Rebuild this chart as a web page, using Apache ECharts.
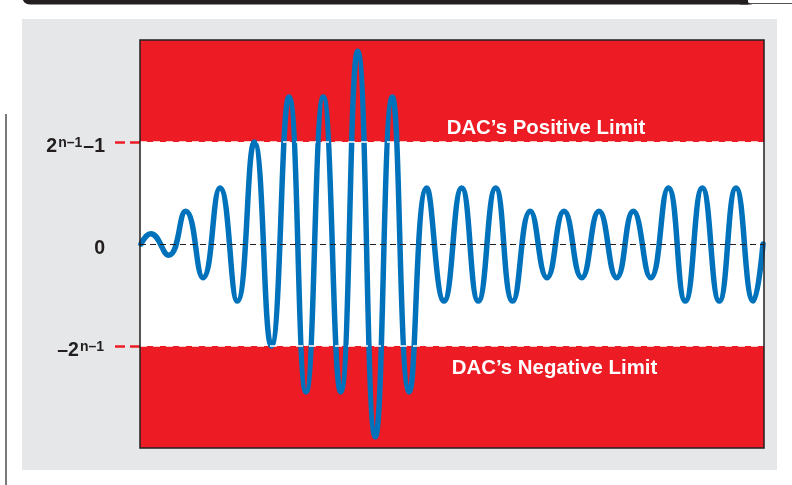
<!DOCTYPE html>
<html>
<head>
<meta charset="utf-8">
<script src="https://cdn.jsdelivr.net/npm/echarts@6/dist/echarts.min.js"></script>
<style>
  html, body { margin: 0; padding: 0; background: #fff; }
  #chart { width: 792px; height: 485px; }
</style>
</head>
<body>
<div id="chart"></div>
<script>
// DAC output waveform, y in % of the DAC limit (2^(n-1) = 100)
var waveX = [1, 10.7, 28.7, 45.7, 63, 80, 97.3, 114.3, 131.3, 149,
  166, 183.3, 200.7, 217.7, 235.3, 252.3, 269.3, 286.7, 304, 321.7,
  338.3, 355.7, 372.7, 390.3, 407, 424, 441.7, 459, 476.7, 493.3,
  510.7, 528.3, 545.3, 562.3, 579.3, 596, 613.3, 623];
var waveY = [0, 10, -11, 32, -33, 55, -56, 100, -100, 144,
  -145, 144, -145, 189, -189, 144, -145, 55, -56, 55,
  -56, 55, -56, 32, -33, 32, -33, 32, -33, 32,
  -33, 55, -56, 55, -56, 55, -56, 0];
var posLimit = 100;
var negLimit = -100;
var tickValues = [negLimit, 0, posLimit];
var areaTexts = ['DAC\u2019s Positive Limit', 'DAC\u2019s Negative Limit'];

var RED = '#ed1c24';
var BLUE = '#0072bc';
var INK = '#231f20';
var FONT = '"Liberation Sans", Arial, Helvetica, sans-serif';

var chart = echarts.init(document.getElementById('chart'));

var points = waveX.map(function (x, i) { return [x, waveY[i]]; });

function tickLabel(v) {
  if (v === posLimit) return '{b|2}{s|n\u20131}{b|\u20131}';
  if (v === 0) return '{b|0}';
  if (v === negLimit) return '{b|\u20132}{s|n\u20131}';
  return '';
}

var option = {
  backgroundColor: '#fff',
  animation: false,
  grid: { left: 140, right: 28, top: 40, bottom: 37, show: true, backgroundColor: '#fff', borderWidth: 0 },
  xAxis: {
    type: 'value', min: 0, max: 624,
    axisLine: { show: false }, axisTick: { show: false },
    axisLabel: { show: false }, splitLine: { show: false }
  },
  yAxis: {
    type: 'value', min: -200, max: 200, interval: 100,
    axisLine: { show: false },
    splitLine: { show: false },
    axisTick: {
      show: true, customValues: [negLimit, posLimit], length: 28, inside: false,
      lineStyle: { color: RED, width: 2.5, type: [10, 5] }
    },
    axisLabel: {
      customValues: tickValues, margin: 35, padding: [9, 0, 0, 0],
      formatter: tickLabel,
      rich: {
        b: { fontSize: 19.5, fontWeight: 'bold', fontFamily: FONT, color: INK, lineHeight: 21 },
        s: { fontSize: 14, fontWeight: 'bold', fontFamily: FONT, color: INK, lineHeight: 14, verticalAlign: 'top', padding: [0, 1, 0, 1] }
      }
    }
  },
  series: [
    {
      name: 'limits', type: 'line', data: [], z: 1, silent: true,
      markArea: {
        silent: true,
        itemStyle: { color: RED, opacity: 1 },
        data: [
          [{ yAxis: posLimit }, { yAxis: 200 }],
          [{ yAxis: -200 }, { yAxis: negLimit }]
        ]
      },
      markLine: {
        silent: true, symbol: 'none', label: { show: false },
        data: [
          { yAxis: posLimit, lineStyle: { color: '#fff', width: 1.5, type: [7, 6] } },
          { yAxis: negLimit, lineStyle: { color: '#fff', width: 1.5, type: [7, 6] } },
          { yAxis: 0, lineStyle: { color: INK, width: 1, type: [6, 4] } }
        ]
      }
    },
    {
      name: 'DAC output', type: 'line', data: points, z: 3,
      smooth: 0.5, showSymbol: false, symbol: 'none',
      lineStyle: { color: BLUE, width: 5.5, cap: 'round' }
    }
  ],
  graphic: [
    { type: 'rect', z: -10, shape: { x: 22, y: 19, width: 755, height: 451 }, style: { fill: '#e6e7e8' } },
    { type: 'line', z: -10, shape: { x1: 6, y1: 114, x2: 6, y2: 485 }, style: { stroke: '#7a7a7a', lineWidth: 2 } },
    { type: 'rect', z: -10, shape: { x: 22, y: -6, width: 726, height: 10.5, r: [0, 0, 0, 8] }, style: { fill: INK } },
    { type: 'polygon', z: -10, shape: { points: [[740, 0], [744, 0], [752, 4.5], [740, 4.5]] }, style: { fill: INK } },
    { type: 'line', z: -10, shape: { x1: 750, y1: 3.5, x2: 792, y2: 3.5 }, style: { stroke: '#555', lineWidth: 1 } },
    { type: 'rect', z: 50, shape: { x: 140, y: 40, width: 624, height: 408 }, style: { fill: 'none', stroke: INK, lineWidth: 1.5 } },
    {
      type: 'text', z: 50, x: 546, y: 128,
      style: { text: areaTexts[0], fill: '#fff', fontSize: 20.4, fontWeight: 'bold', fontFamily: FONT,
        align: 'center', verticalAlign: 'middle', textAlign: 'center', textVerticalAlign: 'middle' }
    },
    {
      type: 'text', z: 50, x: 554.5, y: 368,
      style: { text: areaTexts[1], fill: '#fff', fontSize: 20.4, fontWeight: 'bold', fontFamily: FONT,
        align: 'center', verticalAlign: 'middle', textAlign: 'center', textVerticalAlign: 'middle' }
    }
  ]
};

chart.setOption(option);
</script>
</body>
</html>
